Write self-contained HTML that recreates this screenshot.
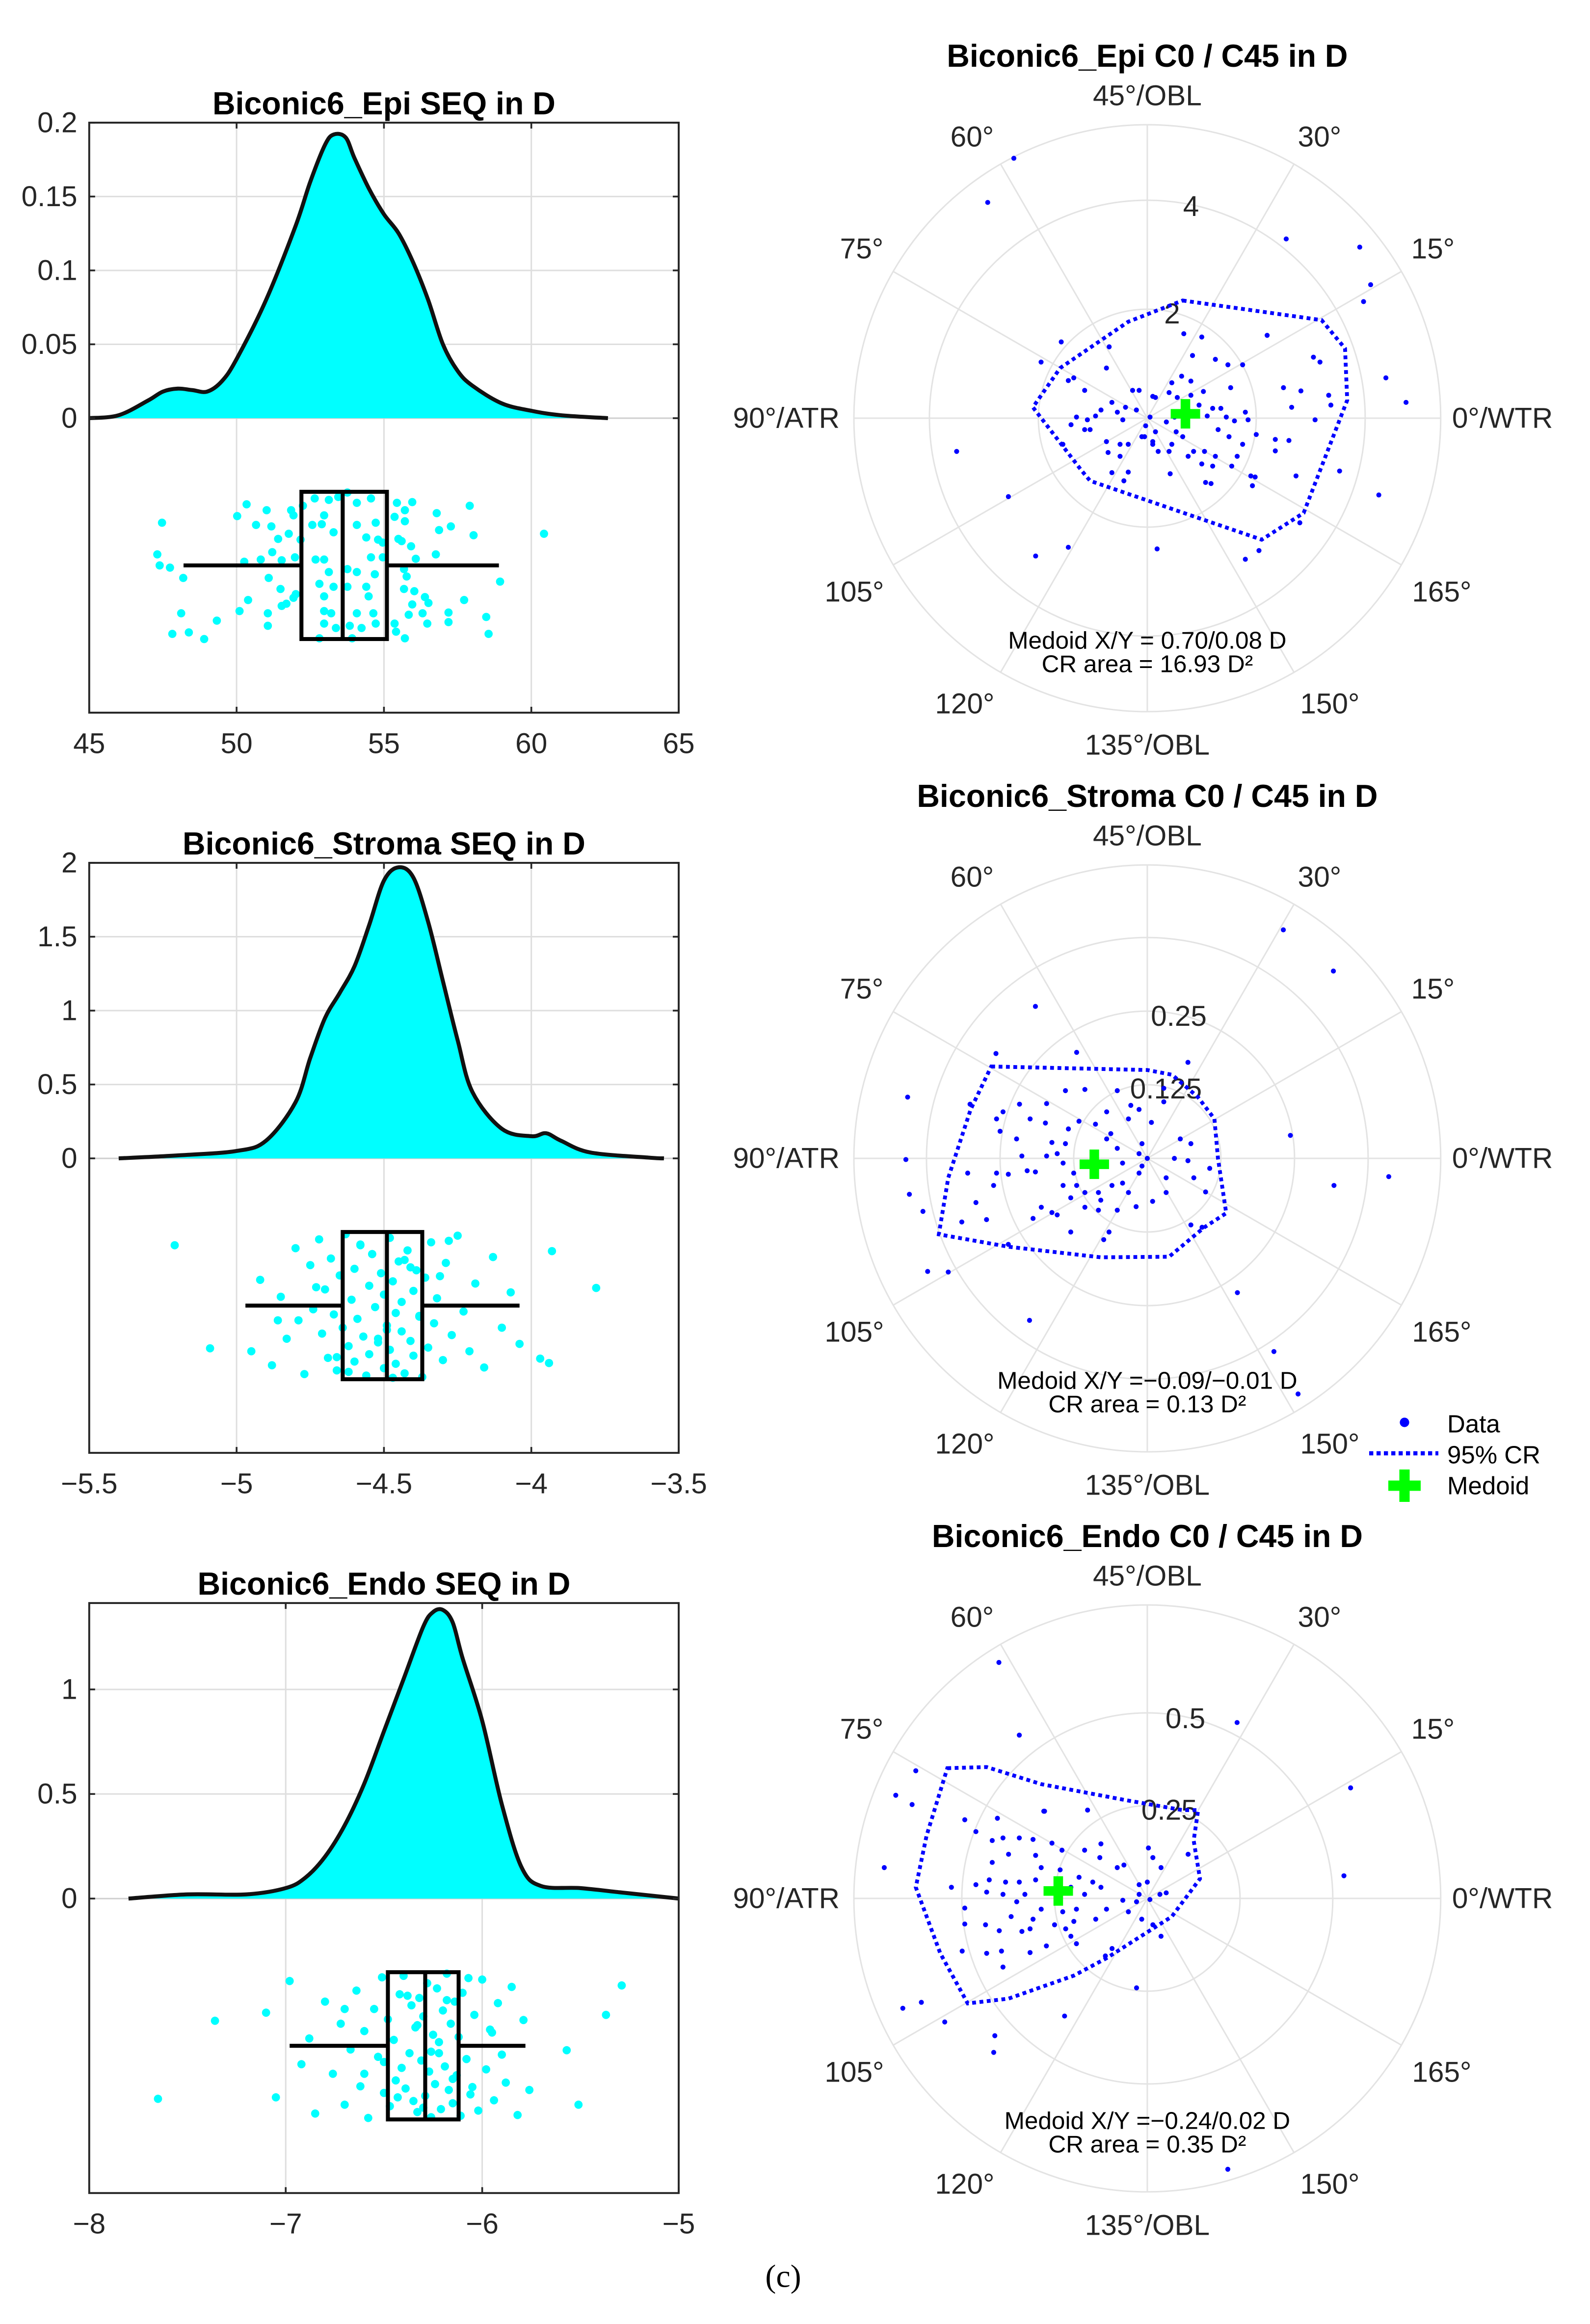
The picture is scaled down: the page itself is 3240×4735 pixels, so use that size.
<!DOCTYPE html>
<html><head><meta charset="utf-8"><title>Biconic6 SEQ and C0/C45 distributions</title>
<style>
html,body{margin:0;padding:0;background:#fff;}
svg{display:block;font-family:"Liberation Sans",Arial,sans-serif;}
</style></head>
<body>
<svg id="fig" xmlns="http://www.w3.org/2000/svg" width="3240" height="4735" viewBox="0 0 1080 1578.33"></svg>
<script>
// ---------- LEFT PANELS DATA ----------
const epiDensX=[45,46,47,47.5,48,48.5,49,49.5,50,51,52,52.5,53,53.3,53.7,54,54.5,55,55.5,56,56.5,57,57.5,58,59,60,61,62.6];
const epiDensY=[0,0.002,0.012,0.018,0.02,0.019,0.018,0.025,0.04,0.08,0.13,0.16,0.185,0.192,0.19,0.176,0.155,0.138,0.125,0.105,0.08,0.05,0.032,0.022,0.01,0.005,0.002,0];
const epiBox=[48.2,52.2,53.6,55.1,58.9];
const epiPtsX=[47.47,47.31,47.39,47.74,48.19,48.12,47.82,48.38,48.9,49.33,50.02,50.34,50.66,51.02,51.18,50.26,50.39,50.1,50.82,51.21,51.09,51.49,51.53,51.41,51.06,51.06,51.53,51.69,51.85,51.93,51.77,51.98,51.93,52.01,52.17,52.25,55.44,55.96,55.71,55.71,55.36,55.6,55.49,55.92,56.08,55.68,55.77,55.68,56.03,55.96,55.84,56.31,56.39,56.51,56.47,55.36,55.41,55.71,56.79,56.87,57.27,56.76,57.91,58.04,57.72,57.19,57.19,58.47,58.55,58.94,60.43,
52.65,53.13,53.45,53.76,54.08,54.56,52.57,52.97,52.89,53.29,54.08,54.4,54.8,54.72,52.68,52.97,53.13,53.76,54.08,54.56,54.69,52.81,52.97,53.29,53.76,54.4,54.48,52.97,53.21,54.08,54.64,52.97,53.37,53.84,54.24,54.72,52.81,53.92,54.96,54.96];
const epiPtsJ=[-0.58,-0.15,0,0.03,0.17,0.65,0.93,0.91,1,0.75,-0.67,-0.83,-0.55,-0.75,-0.53,-0.05,0.47,0.62,-0.08,-0.18,0.17,0.32,-0.07,-0.36,0.65,0.82,0.55,0.52,-0.75,-0.68,-0.43,-0.11,0.44,0.39,-0.35,-0.81,-0.85,-0.86,-0.75,-0.6,-0.66,-0.33,-0.36,-0.26,-0.09,0.05,0.15,0.32,0.35,0.53,0.67,0.65,0.43,0.51,0.79,0.79,0.9,0.99,-0.71,-0.48,-0.53,-0.15,-0.81,-0.41,0.47,0.64,0.77,0.7,0.93,0.22,-0.43,
-0.91,-0.89,-0.93,-0.99,-0.85,-0.91,-0.55,-0.68,-0.56,-0.45,-0.55,-0.38,-0.35,-0.58,-0.08,-0.08,0.09,0.05,0.09,-0.11,0.12,0.25,0.42,0.29,0.29,0.29,0.42,0.62,0.65,0.65,0.65,0.79,0.85,0.82,0.85,0.79,0.99,0.99,-0.31,-0.11];
const epiXTicks=[45,50,55,60,65];
const epiYTicks=[0,0.05,0.1,0.15,0.2];
const epiYLabels=["0","0.05","0.1","0.15","0.2"];

const strDensX=[-5.4,-5.2,-5.0,-4.9,-4.8,-4.75,-4.7,-4.65,-4.6,-4.55,-4.5,-4.45,-4.4,-4.35,-4.3,-4.25,-4.2,-4.1,-4.0,-3.95,-3.9,-3.8,-3.6,-3.55];
const strDensY=[0,0.02,0.05,0.12,0.38,0.68,0.95,1.12,1.3,1.58,1.88,1.97,1.9,1.6,1.2,0.8,0.45,0.2,0.15,0.17,0.12,0.04,0.005,0];
const strBox=[-4.97,-4.64,-4.49,-4.37,-4.04];
const strPtsX=[-4.95,-4.92,-4.88,-4.85,-4.83,-4.8,-4.79,-4.77,-4.75,-4.74,-4.72,-4.71,-4.7,-4.69,-4.68,-4.67,-4.66,-4.65,-4.64,-4.63,-4.62,-4.61,-4.6,-4.6,-4.59,-4.58,-4.57,-4.56,-4.55,-4.55,-4.54,-4.53,-4.52,-4.51,-4.5,-4.5,-4.49,-4.48,-4.48,-4.47,-4.46,-4.46,-4.45,-4.44,-4.44,-4.43,-4.42,-4.41,-4.4,-4.4,-4.39,-4.38,-4.37,-4.36,-4.35,-4.34,-4.33,-4.32,-4.3,-4.29,-4.27,-4.25,-4.23,-4.21,-4.19,-4.16,-4.13,-4.1,-4.07,-4.04,-4.73,-4.66,-4.58,-4.52,-4.47,-4.43,-4.38,-4.31,-4.62,-4.54,-4.49,-4.41,-4.86,-4.28,
-5.21,-5.09,-3.78,-3.93,-3.97,-3.94];
const strPtsJ=[0.62,-0.35,0.81,-0.12,0.45,-0.78,0.2,0.93,-0.55,0.05,-0.9,0.38,-0.22,0.71,-0.64,0.12,0.88,-0.41,0.3,-0.97,0.55,-0.08,0.76,-0.5,0.18,-0.83,0.42,0.95,-0.27,0.66,-0.7,0.02,0.5,-0.44,0.85,-0.15,0.27,-0.92,0.6,-0.33,0.1,0.79,-0.6,0.35,-0.05,0.92,-0.75,0.48,-0.2,0.68,-0.48,0.15,0.97,-0.38,0.57,-0.86,0.24,-0.1,0.74,-0.58,0.4,-0.95,0.08,0.62,-0.3,0.84,-0.66,0.3,-0.18,0.52,-0.25,0.7,-0.82,0.45,0.98,-0.62,0.14,-0.4,0.9,-0.7,0.33,-0.52,0.2,-0.88,
-0.82,0.58,-0.24,-0.74,0.72,0.78];
const strXTicks=[-5.5,-5,-4.5,-4,-3.5];
const strYTicks=[0,0.5,1,1.5,2];
const strYLabels=["0","0.5","1","1.5","2"];

const endDensX=[-7.8,-7.5,-7.2,-7,-6.9,-6.8,-6.7,-6.6,-6.5,-6.4,-6.3,-6.25,-6.2,-6.15,-6.1,-6.0,-5.9,-5.8,-5.7,-5.5,-5.3,-5.1,-5.0];
const endDensY=[0,0.02,0.02,0.05,0.1,0.2,0.35,0.55,0.8,1.05,1.3,1.37,1.38,1.32,1.15,0.85,0.45,0.15,0.06,0.05,0.03,0.01,0];
const endBox=[-6.98,-6.48,-6.29,-6.12,-5.78];
const endPtsX=[-7.1,-7.05,-6.98,-6.92,-6.88,-6.85,-6.8,-6.76,-6.72,-6.7,-6.67,-6.64,-6.62,-6.6,-6.58,-6.55,-6.53,-6.51,-6.5,-6.48,-6.47,-6.45,-6.44,-6.42,-6.41,-6.4,-6.39,-6.37,-6.36,-6.35,-6.34,-6.33,-6.32,-6.31,-6.3,-6.29,-6.28,-6.27,-6.26,-6.25,-6.24,-6.23,-6.22,-6.21,-6.2,-6.19,-6.18,-6.17,-6.16,-6.15,-6.14,-6.13,-6.12,-6.11,-6.1,-6.08,-6.06,-6.04,-6.02,-6.0,-5.98,-5.96,-5.94,-5.92,-5.9,-5.88,-5.85,-5.82,-5.79,-5.76,-6.5,-6.38,-6.3,-6.22,-6.15,-6.07,-6.43,-6.33,-6.26,-6.18,-6.05,-5.95,-6.6,-6.7,
-7.65,-7.36,-5.29,-5.37,-5.51,-5.57];
const endPtsJ=[-0.45,0.7,-0.88,0.25,-0.1,0.92,-0.6,0.38,-0.3,0.8,0.05,-0.75,0.55,-0.2,0.98,-0.5,0.15,-0.93,0.64,-0.36,0.82,-0.08,0.47,-0.7,0.3,-0.95,0.58,0.1,-0.55,0.75,-0.25,0.9,-0.65,0.2,-0.4,0.68,-0.85,0.35,0.97,-0.15,0.52,-0.78,0.1,0.86,-0.48,0.28,-0.98,0.6,-0.3,0.78,-0.6,0.4,-0.12,0.95,-0.72,0.18,0.66,-0.42,0.88,-0.9,0.32,-0.22,0.74,-0.58,0.12,0.5,-0.8,0.94,-0.35,0.6,0.22,-0.68,0.84,-0.05,0.45,-0.92,0.7,-0.28,0.08,-0.62,0.56,-0.18,0.38,-0.5,
0.72,-0.34,-0.82,-0.42,0.8,0.06];
const endXTicks=[-8,-7,-6,-5];
const endYTicks=[0,0.5,1];
const endYLabels=["0","0.5","1"];

// ---------- POLAR DATA (X = C0, Y = C45, in D) ----------
const epiPolarPts=[[-2.45,4.77],[-2.93,3.96],[2.55,3.29],[3.9,3.14],[4.1,2.45],[3.97,2.14],[4.38,0.74],[4.75,0.29],[3.53,-0.97],[4.25,-1.41],[2.8,-1.92],[1.8,-2.59],[2.05,-2.43],[0.18,-2.4],[-1.45,-2.37],[-2.05,-2.53],[-2.55,-1.44],[-3.5,-0.61],[-1.58,1.4],[-1.95,1.03],[-0.7,1.31],[2.2,1.52],[3.05,1.12],[3.17,1.03],[2.5,0.56],[2.82,0.5],[3.33,0.42],[3.37,0.24],[2.65,0.2],[3.08,-0.03],[2.6,-0.41],[2.35,-0.39],[2.35,-0.6],[2.73,-1.06],[1.93,-1.24],[1.98,-1.08],[1.75,0.98],[1.48,0.98],[1.25,1.08],[1.0,1.49],[0.67,1.55],[0.83,1.15],[-0.43,-1.15],[-0.65,-1.0],[-0.35,-0.99],[0.42,-1.02],[1.07,-1.18],[1.17,-1.2],
[0.45,0.65],[0.63,0.77],[0.8,0.68],[0.4,0.47],[0.55,0.38],[0.8,0.42],[1.03,0.49],[1.53,0.56],[1.2,0.18],[1.35,0.18],[1.45,0.02],[1.6,-0.05],[1.8,0.11],[1.85,-0.03],[1.3,-0.21],[1.5,-0.34],[1.75,-0.48],[2.0,-0.3],[1.55,-0.88],[1.05,-0.61],[1.25,-0.7],[0.85,-0.61],[0.75,-0.7],[0.65,-0.34],[0.53,-0.25],[0.45,-0.48],[0.4,-0.61],[0.2,-0.61],[0.1,-0.48],[0.15,-0.25],[-0.03,-0.14],[-0.1,-0.34],[0.05,0.02],[0.15,0.38],[0.1,0.4],[-0.15,0.51],[-0.27,0.51],[-0.2,0.15],[-0.4,0.2],[-0.55,0.11],[-0.45,-0.03],[-0.65,0.29],[-0.85,0.15],[-0.95,0.04],[-1.1,-0.03],[-1.3,0.02],[-1.05,-0.21],[-0.75,-0.43],[-0.5,-0.48],[-0.35,-0.48],[-0.5,-0.7],[0.1,-0.43],[-0.05,-0.34],[-1.15,0.51],[-1.35,0.74],[-1.45,0.69],[-0.75,0.92],[-1.4,-0.12],[-1.15,-0.21],[-1.55,-0.48],[-0.72,-0.63],[1.0,-0.84],[1.2,-0.88],[1.65,-0.7],[1.9,-1.06],[0.5,0.02],[0.35,-0.07],[0.75,0.11],[0.95,0.24],[1.1,0.04]];
const epiCR=[[0.65,2.16],[3.2,1.8],[3.63,1.28],[3.67,0.33],[2.87,-1.74],[2.1,-2.23],[-1.05,-1.15],[-1.2,-0.97],[-2.1,0.2],[-1.6,0.92],[-0.35,1.77]];
const epiMedoid=[0.70,0.08];

const strPolarPts=[[0.231,0.388],[0.316,0.318],[-0.19,0.258],[-0.257,0.178],[-0.12,0.18],[0.069,0.163],[-0.407,0.104],[-0.41,-0.002],[-0.404,-0.061],[-0.381,-0.09],[-0.373,-0.192],[-0.338,-0.193],[-0.2,-0.275],[0.153,-0.228],[0.215,-0.328],[0.256,-0.4],[0.243,0.039],[0.317,-0.046],[0.41,-0.031],
[-0.139,0.115],[-0.106,0.117],[-0.051,0.115],[-0.028,0.09],[-0.014,0.083],[0.028,0.096],[0.007,0.061],[-0.032,0.067],[-0.069,0.079],[-0.088,0.058],[-0.116,0.063],[-0.134,0.05],[-0.139,0.025],[-0.162,0.027],[-0.171,0.004],[-0.153,0.008],[-0.143,-0.008],[-0.125,-0.025],[-0.106,-0.013],[-0.12,-0.046],[-0.143,-0.046],[-0.13,-0.067],[-0.106,-0.058],[-0.083,-0.058],[-0.079,-0.071],[-0.06,-0.046],[-0.042,-0.042],[-0.032,-0.058],[-0.014,-0.025],[-0.009,-0.013],[0,0],[-0.014,0.008],[-0.009,0.025],[-0.042,-0.008],[-0.051,0.017],[-0.069,0.033],[-0.062,0.042],[-0.088,0.008],[-0.217,0.092],[-0.199,0.067],[-0.222,0.033],[-0.213,0.004],[-0.245,0.079],[-0.25,0.046],[-0.256,-0.025],[-0.261,-0.046],[-0.236,-0.027],[-0.204,-0.021],[-0.19,-0.023],[-0.291,-0.075],[-0.273,-0.104],[-0.236,-0.146],[-0.194,-0.102],[-0.18,-0.083],[-0.162,-0.092],[-0.153,-0.096],[-0.13,-0.125],[-0.106,-0.083],[-0.083,-0.088],[-0.051,-0.088],[-0.065,-0.125],[-0.074,-0.138],[-0.019,-0.082],[0.009,-0.073],[0.032,-0.058],[0.032,-0.033],[0.046,0],[0.056,0.033],[0.074,0.025],[0.069,-0.004],[0.079,-0.033],[0.106,-0.017],[0.099,-0.057],[0.074,-0.113],[0.093,-0.117],[0.028,0.119],[-0.171,0.093],[-0.301,0.092],[-0.256,0.067],[-0.305,-0.025],[-0.315,-0.108],[-0.173,0.06]];
const strCR=[[-0.265,0.156],[0,0.15],[0.042,0.142],[0.086,0.104],[0.114,0.067],[0.12,0],[0.134,-0.093],[0.097,-0.117],[0.037,-0.167],[-0.079,-0.168],[-0.236,-0.15],[-0.354,-0.129],[-0.338,-0.033],[-0.3,0.083]];
const strMedoid=[-0.09,-0.01];

const endPolarPts=[[-0.4,0.636],[-0.345,0.44],[0.242,0.474],[0.548,0.298],[0.53,0.061],[-0.624,0.344],[-0.678,0.278],[-0.634,0.253],[-0.709,0.083],[-0.659,-0.296],[-0.609,-0.28],[-0.546,-0.333],[-0.411,-0.37],[-0.414,-0.415],[-0.223,-0.317],[-0.029,-0.241],[0.217,-0.73],[-0.161,0.238],[-0.277,0.235],
[-0.279,0.235],[-0.404,0.216],[-0.492,0.212],[-0.462,0.18],[-0.418,0.156],[-0.389,0.163],[-0.345,0.163],[-0.308,0.159],[-0.257,0.149],[-0.23,0.13],[-0.169,0.13],[-0.125,0.147],[-0.128,0.11],[-0.081,0.083],[-0.063,0.09],[0.003,0.136],[0.015,0.11],[0.037,0.083],[0.11,0.119],[-0.022,0.037],[0,0.044],[-0.022,0.011],[-0.029,-0.009],[0.007,-0.003],[0.051,0.015],[0.034,0.011],[-0.066,-0.005],[-0.051,-0.036],[-0.015,-0.056],[0.015,-0.071],[0.037,-0.102],[-0.095,-0.135],[-0.113,-0.155],[-0.198,-0.062],[-0.22,-0.082],[-0.25,-0.071],[-0.286,-0.029],[-0.308,-0.056],[-0.316,-0.082],[-0.338,-0.089],[-0.367,-0.049],[-0.399,-0.087],[-0.436,-0.071],[-0.492,-0.069],[-0.492,-0.026],[-0.528,0.03],[-0.462,0.037],[-0.426,0.05],[-0.382,0.044],[-0.345,0.044],[-0.301,0.05],[-0.264,0.024],[-0.242,-0.003],[-0.228,-0.036],[-0.191,-0.029],[-0.169,0.011],[-0.147,0.044],[-0.125,0.03],[-0.11,-0.029],[-0.139,-0.056],[-0.418,0.097],[-0.374,0.119],[-0.301,0.116],[-0.286,0.083],[-0.235,0.077],[-0.206,0.03],[-0.184,0.057],[-0.433,0.017],[-0.389,0.011],[-0.352,-0.009],[-0.33,0.011],[-0.499,-0.142],[-0.433,-0.148],[-0.393,-0.142],[-0.389,-0.185],[-0.316,-0.146],[-0.272,-0.128],[-0.206,-0.102],[-0.191,-0.122]];
const endCR=[[-0.539,0.351],[-0.433,0.354],[-0.286,0.308],[-0.059,0.265],[0.095,0.238],[0.137,0.238],[0.125,0.156],[0.142,0.053],[0.066,-0.049],[-0.11,-0.161],[-0.198,-0.208],[-0.374,-0.27],[-0.484,-0.283],[-0.558,-0.148],[-0.624,0.03],[-0.595,0.169]];
const endMedoid=[-0.24,0.02];

const NS="http://www.w3.org/2000/svg";
const svg=document.getElementById('fig');
function mk(tag,attrs,parent){const e=document.createElementNS(NS,tag);for(const k in attrs)e.setAttribute(k,attrs[k]);(parent||svg).appendChild(e);return e;}
function txt(s,x,y,size,anchor,parent,weight){const t=mk('text',{x:x,y:y,'font-size':size,'text-anchor':anchor||'middle','dominant-baseline':'central',fill:'#262626'},parent);if(weight){t.setAttribute('font-weight',weight);t.setAttribute('fill','#000');}t.textContent=s;return t;}
function fmt(v){return (v<0?'\u2212':'')+Math.abs(v);}
// smooth path through points (Catmull-Rom -> cubic Bezier)
function smooth(p){let d='M'+p[0][0].toFixed(2)+','+p[0][1].toFixed(2);
  for(let i=0;i<p.length-1;i++){const p0=p[i>0?i-1:i],p1=p[i],p2=p[i+1],p3=p[i+2<p.length?i+2:i+1];
    const c1=[p1[0]+(p2[0]-p0[0])/6,p1[1]+(p2[1]-p0[1])/6],c2=[p2[0]-(p3[0]-p1[0])/6,p2[1]-(p3[1]-p1[1])/6];
    d+=' C'+c1[0].toFixed(2)+','+c1[1].toFixed(2)+' '+c2[0].toFixed(2)+','+c2[1].toFixed(2)+' '+p2[0].toFixed(2)+','+p2[1].toFixed(2);}
  return d;}

// ---------- LEFT PANEL ----------
function leftPanel(name,title,top,xmin,xmax,ymax,xt,yt,yl,dx,dy,box,px,pj){
  const g=mk('g',{});
  
  
  const L=60.6,R=461,zero=top+200.7,bot=zero+200;
  const X=v=>L+(v-xmin)/(xmax-xmin)*(R-L);
  const Y=v=>zero-v/ymax*200.7;
  const t=txt(title,(L+R)/2,top-13,21.5,'middle',g,'bold');
  
  
  xt.forEach(v=>{const l=mk('line',{x1:X(v),x2:X(v),y1:top,y2:bot,stroke:'#dedede','stroke-width':1},g);
    
    });
  yt.forEach(v=>{if(v===0)return;const l=mk('line',{x1:L,x2:R,y1:Y(v),y2:Y(v),stroke:'#dedede','stroke-width':1},g);
    
    });
  mk('line',{x1:L,x2:R,y1:zero,y2:zero,stroke:'#cfcfcf','stroke-width':1},g);
  const P=dx.map((v,i)=>[X(v),Math.min(Y(dy[i]),zero)]);
  const sd=smooth(P);
  const area=mk('path',{d:sd+' L'+P[P.length-1][0]+','+zero+' L'+P[0][0]+','+zero+'Z',fill:'#00ffff',stroke:'none'},g);
  
  
  const line=mk('path',{d:sd,fill:'none',stroke:'#111','stroke-width':2.7,'stroke-linejoin':'round'},g);
  
  
  const bc=zero+100,bh=50;
  px.forEach((v,i)=>{const c=mk('circle',{cx:X(v),cy:bc+pj[i]*bh,r:2.8,fill:'#00ffff'},g);
    
    });
  const bg=mk('g',{stroke:'#000','stroke-width':2.7,fill:'none'},g);
  
  
  mk('line',{x1:X(box[0]),x2:X(box[1]),y1:bc,y2:bc},bg);
  mk('line',{x1:X(box[3]),x2:X(box[4]),y1:bc,y2:bc},bg);
  mk('rect',{x:X(box[1]),y:bc-bh,width:X(box[3])-X(box[1]),height:2*bh},bg);
  mk('line',{x1:X(box[2]),x2:X(box[2]),y1:bc-bh,y2:bc+bh},bg);
  const fr=mk('rect',{x:L,y:top,width:R-L,height:bot-top,fill:'none',stroke:'#262626','stroke-width':1.3},g);
  
  
  xt.forEach(v=>{mk('line',{x1:X(v),x2:X(v),y1:bot,y2:bot-4,stroke:'#262626','stroke-width':1.2},g);
    mk('line',{x1:X(v),x2:X(v),y1:top,y2:top+4,stroke:'#262626','stroke-width':1.2},g);
    const l=txt(fmt(v),X(v),bot+21,19.5,'middle',g);
    
    });
  yt.forEach((v,i)=>{mk('line',{x1:L,x2:L+4,y1:Y(v),y2:Y(v),stroke:'#262626','stroke-width':1.2},g);
    mk('line',{x1:R,x2:R-4,y1:Y(v),y2:Y(v),stroke:'#262626','stroke-width':1.2},g);
    const l=txt(yl[i],52.5,Y(v),19.5,'end',g);
    
    });
}
leftPanel('epi','Biconic6_Epi SEQ in D',83.3,45,65,0.2,epiXTicks,epiYTicks,epiYLabels,epiDensX,epiDensY,epiBox,epiPtsX,epiPtsJ);
leftPanel('stroma','Biconic6_Stroma SEQ in D',586,-5.5,-3.5,2,strXTicks,strYTicks,strYLabels,strDensX,strDensY,strBox,strPtsX,strPtsJ);
leftPanel('endo','Biconic6_Endo SEQ in D',1088.7,-8,-5,1.413,endXTicks,endYTicks,endYLabels,endDensX,endDensY,endBox,endPtsX,endPtsJ);

// ---------- POLAR PANEL ----------
function polarPanel(name,title,cy,pxPerD,rings,ringLabels,pts,cr,med,medTxt,crTxt){
  const cx=779.3,R=199.3;
  const g=mk('g',{});
  
  
  const t=txt(title,cx,cy-246,21.5,'middle',g,'bold');
  
  
  const gg=mk('g',{stroke:'#e3e3e3','stroke-width':1,fill:'none'},g);
  
  
  for(let a=0;a<360;a+=30){const r=a*Math.PI/180;mk('line',{x1:cx,y1:cy,x2:cx+R*Math.cos(r),y2:cy-R*Math.sin(r)},gg);}
  rings.forEach(v=>mk('circle',{cx:cx,cy:cy,r:v*pxPerD},gg));
  mk('circle',{cx:cx,cy:cy,r:R},gg);
  ringLabels.forEach((s,i)=>{const rr=rings[i]*pxPerD,a=80*Math.PI/180;
    const l=txt(s,cx+rr*Math.cos(a)+4,cy-rr*Math.sin(a)+2,19.5,'middle',g);
    
    });
  const labs=[['45°/OBL',0,-219,'middle'],['60°',-119,-191,'middle'],['30°',117,-191,'middle'],['75°',-194,-115,'middle'],['15°',194,-115,'middle'],
    ['90°/ATR',-209,0,'end'],['0°/WTR',207,0,'start'],['105°',-199,118,'middle'],['165°',200,118,'middle'],['120°',-124,194,'middle'],['150°',124,194,'middle'],['135°/OBL',0,222,'middle']];
  labs.forEach(l=>{const e=txt(l[0],cx+l[1],cy+l[2],19.5,l[3],g);
    
    });
  const X=v=>cx+v*pxPerD, Y=v=>cy-v*pxPerD;
  pts.forEach(p=>{const c=mk('circle',{cx:X(p[0]),cy:Y(p[1]),r:1.7,fill:'#0000ff'},g);
    
    });
  const poly=mk('polygon',{points:cr.map(p=>X(p[0]).toFixed(2)+','+Y(p[1]).toFixed(2)).join(' '),fill:'none',stroke:'#0000ff','stroke-width':2.6,'stroke-dasharray':'2.6 2.4'},g);
  
  
  const mx=X(med[0]),my=Y(med[1]);
  const m=mk('path',{d:`M${mx-10},${my}H${mx+10}M${mx},${my-10}V${my+10}`,stroke:'#00ff00','stroke-width':6.5,fill:'none'},g);
  
  
  const t1=txt(medTxt,cx,cy+151,16.5,'middle',g);t1.setAttribute('fill','#000');
  
  
  const t2=txt(crTxt,cx,cy+167,16.5,'middle',g);t2.setAttribute('fill','#000');
  
  
}
polarPanel('epi','Biconic6_Epi C0 / C45 in D',284,37,[2,4],['2','4'],epiPolarPts,epiCR,epiMedoid,'Medoid X/Y = 0.70/0.08 D','CR area = 16.93 D²');
polarPanel('stroma','Biconic6_Stroma C0 / C45 in D',786.7,400,[0.125,0.25,0.375],['0.125','0.25'],strPolarPts,strCR,strMedoid,'Medoid X/Y =\u22120.09/\u22120.01 D','CR area = 0.13 D²');
polarPanel('endo','Biconic6_Endo C0 / C45 in D',1289.3,252,[0.25,0.5],['0.25','0.5'],endPolarPts,endCR,endMedoid,'Medoid X/Y =\u22120.24/0.02 D','CR area = 0.35 D²');

// ---------- LEGEND ----------
const lg=mk('g',{});


const ld=mk('circle',{cx:954,cy:966,r:3.2,fill:'#0000ff'},lg);


txt('Data',983,967,17,'start',lg).setAttribute('fill','#000');
const ll=mk('line',{x1:930,x2:977,y1:987,y2:987,stroke:'#0000ff','stroke-width':2.8,'stroke-dasharray':'2.8 2.2'},lg);


txt('95% CR',983,988,17,'start',lg).setAttribute('fill','#000');
const lm=mk('path',{d:'M943,1009H965M954,998V1020',stroke:'#00ff00','stroke-width':7},lg);


txt('Medoid',983,1009,17,'start',lg).setAttribute('fill','#000');

const cap=mk('text',{x:532,y:1546,'font-size':22,'text-anchor':'middle','dominant-baseline':'central','font-family':'"Liberation Serif",serif',fill:'#000'});
cap.textContent='(c)';


</script>
</body></html>
